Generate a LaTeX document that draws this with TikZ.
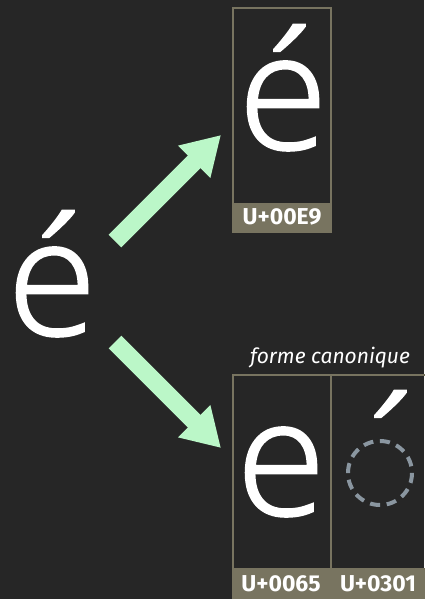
\documentclass[tikz,border=0pt]{standalone}
\usepackage{fontspec}
\setmainfont{Fira Sans}
\IfFontExistsTF{Open Sans Light}{\newfontfamily\glyphfont{Open Sans Light}[FakeBold=1.5]}{\newfontfamily\glyphfont{Fira Sans}}
\usetikzlibrary{arrows.meta}
\definecolor{bg}{RGB}{38,38,38}
\definecolor{olive}{RGB}{120,116,96}
\definecolor{arrowgreen}{RGB}{187,247,200}
\definecolor{dashgray}{RGB}{138,150,160}
\begin{document}
\begin{tikzpicture}[x=1pt,y=-1pt,
  bigglyph/.style={inner sep=0pt, outer sep=0pt, anchor=base, text=white, font=\glyphfont\fontsize{162}{162}\selectfont},
  codelabel/.style={inner sep=0pt, text=white, font=\bfseries\fontsize{23}{23}\selectfont},
  boxframe/.style={draw=olive, line width=2pt},
  band/.style={fill=olive},
  bigarrow/.style={draw=arrowgreen, line width=17.7pt, -{Triangle[length=38pt,width=43pt]}}
]
\useasboundingbox (0,0) rectangle (424,599);
\fill[bg] (0,0) rectangle (424,599);

% top box
\fill[band] (233,203) rectangle (331,232);
\draw[boxframe] (233,8) rectangle (331,232);
\node[codelabel] (lab1) at (282,217) {U+00E9};
\node[bigglyph] (top) at (283,149) {é};

% bottom box
\fill[band] (233,568) rectangle (426,601);
\draw[boxframe] (233,375) rectangle (426,601);
\draw[boxframe] (331,375) -- (331,601);
\node[codelabel] (lab2) at (281,584) {U+0065};
\node[codelabel] (lab3) at (378,584) {U+0301};
\node[bigglyph] (e) at (281,515) {e};
\draw[dashgray, line width=4pt, dash pattern=on 10pt off 6.75pt] (380,473) circle[radius=32];
\node[bigglyph] (acc) at (391,515) {\makebox[30pt][c]{\symbol{"00B4}}};
\node[inner sep=0pt, anchor=base, text=white, font=\itshape\fontsize{21}{21}\selectfont] (canon) at (330,363) {forme canonique};

% source glyph
\node[bigglyph] (src) at (52,335) {é};

% arrows
\coordinate (a1s) at (115,241);
\coordinate (a1e) at (221,135);
\coordinate (a2s) at (115,342);
\coordinate (a2e) at (221,448);
\draw[bigarrow] (a1s) -- (a1e);
\draw[bigarrow] (a2s) -- (a2e);
\end{tikzpicture}
\end{document}
